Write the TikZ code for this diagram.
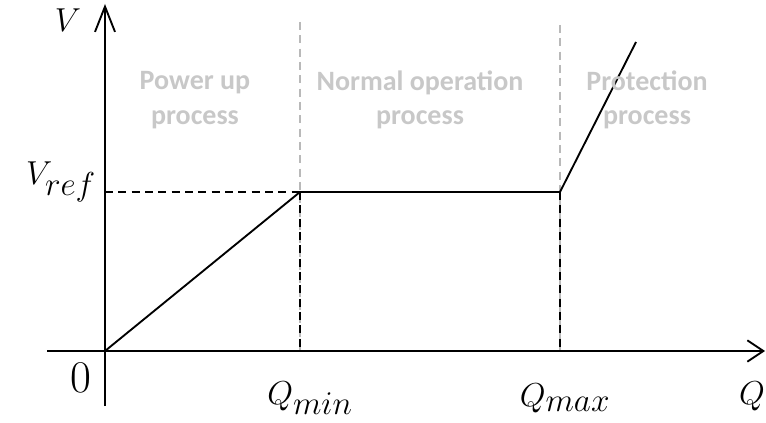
\documentclass[tikz,border=0pt]{standalone}
\usepackage{fontspec}
\newfontfamily\graysans{Carlito}
\usetikzlibrary{arrows.meta}
\definecolor{lightgraytxt}{RGB}{200,200,200}
\definecolor{guidegray}{RGB}{185,185,185}
\tikzset{
  axis/.style={line width=1.4pt},
  curve/.style={line width=1.4pt},
  guide/.style={guidegray, line width=1.4pt, dash pattern=on 6pt off 4pt},
  blackdash/.style={black, line width=1.4pt, dash pattern=on 6pt off 4pt},
  phase/.style={lightgraytxt, font=\graysans\bfseries\fontsize{21}{26}\selectfont, align=center},
  mathlbl/.style={font=\fontsize{38}{42}\selectfont, inner sep=0pt}
}
\begin{document}
\begin{tikzpicture}[x=0.75pt,y=-0.75pt]
\useasboundingbox (0,0) rectangle (766,423);
% coordinates
\coordinate (O) at (105,351);
\coordinate (ytop) at (105,4);
\coordinate (ybot) at (105,406);
\coordinate (xleft) at (47,351);
\coordinate (xright) at (765,351);
\coordinate (Vr) at (105,192);
\coordinate (A) at (300,192);
\coordinate (B) at (560,192);
\coordinate (C) at (636,42);
\coordinate (G1) at (300,22);
\coordinate (G2) at (560,25);
\coordinate (Q1) at (300,351);
\coordinate (Q2) at (560,351);
% guides
\draw[guide] (G1) -- (Q1);
\draw[guide] (G2) -- (Q2);
\draw[blackdash] (A) -- (Q1);
\draw[blackdash] (B) -- (Q2);
\draw[blackdash] (Vr) -- (A);
% axes
\draw[axis, -{Straight Barb[length=19pt,width=15pt]}] (ybot) -- (ytop);
\draw[axis, -{Straight Barb[length=12pt,width=16pt]}] (xleft) -- (xright);
% curve
\draw[curve] (O) -- (A) -- (B) -- (C);
% labels
\node[mathlbl] (lV) at (68,20) {$V$};
\node[mathlbl] (lVref) at (61,182) {$V_{ref}$};
\node[font=\fontsize{34}{38}\selectfont, inner sep=0pt] (l0) at (81,378) {0};
\node[mathlbl] (lQmin) at (310,398) {$Q_{min}$};
\node[mathlbl] (lQmax) at (565,398) {$Q_{max}$};
\node[mathlbl] (lQ) at (752,396) {$Q$};
\node[phase] (p1) at (195,100) {Power up\\process};
\node[phase] (p2) at (420,100) {Normal operation\\process};
\node[phase] (p3) at (647,100) {Protection\\process};
\end{tikzpicture}
\end{document}
